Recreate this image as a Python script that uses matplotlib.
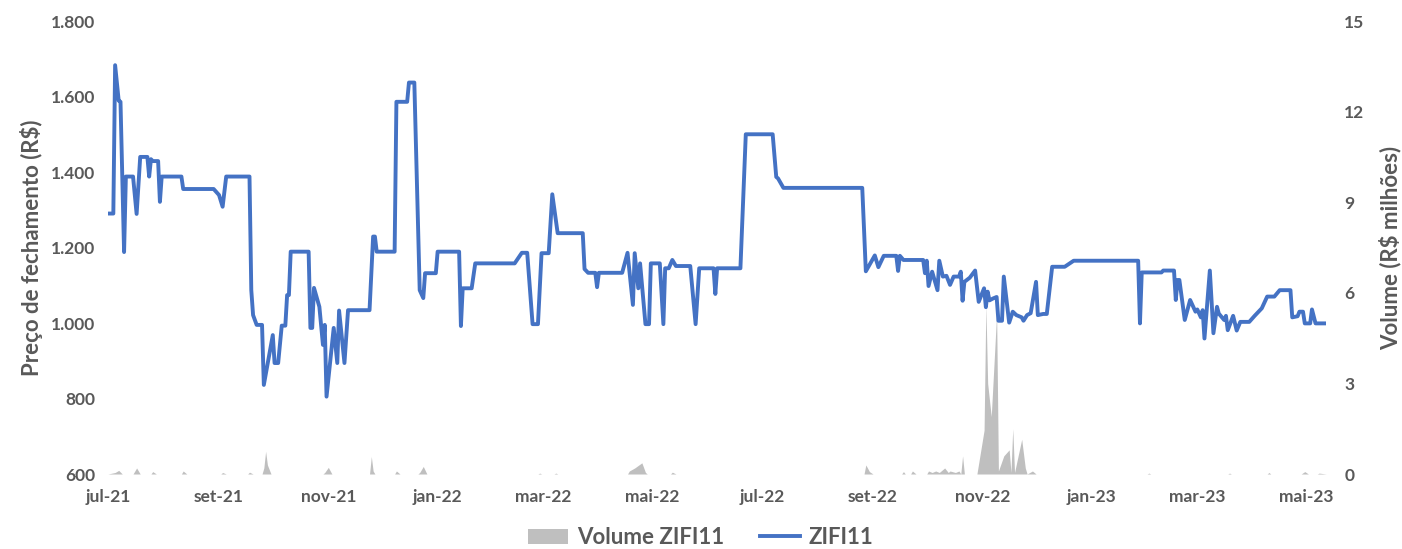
import numpy as np
import pandas as pd
import matplotlib
matplotlib.use("Agg")
import matplotlib.pyplot as plt
import matplotlib.dates as mdates
from matplotlib.ticker import FuncFormatter, FixedLocator
from matplotlib.patches import Patch
from matplotlib.lines import Line2D

# preço de fechamento (R$)
precoDatas = [
    "2021-07-01", "2021-07-04", "2021-07-05", "2021-07-07", "2021-07-08", "2021-07-10", "2021-07-11",
    "2021-07-15", "2021-07-17", "2021-07-19", "2021-07-23", "2021-07-24", "2021-07-25", "2021-07-26",
    "2021-07-29", "2021-07-30", "2021-07-31", "2021-08-11", "2021-08-12", "2021-08-29", "2021-09-01",
    "2021-09-03", "2021-09-05", "2021-09-18", "2021-09-19", "2021-09-20", "2021-09-22", "2021-09-25",
    "2021-09-26", "2021-10-01", "2021-10-02", "2021-10-04", "2021-10-06", "2021-10-08", "2021-10-09",
    "2021-10-10", "2021-10-11", "2021-10-21", "2021-10-22", "2021-10-23", "2021-10-24", "2021-10-27",
    "2021-10-29", "2021-10-30", "2021-10-31", "2021-11-04", "2021-11-06", "2021-11-07", "2021-11-10",
    "2021-11-12", "2021-11-24", "2021-11-26", "2021-11-27", "2021-11-28", "2021-12-08", "2021-12-09",
    "2021-12-15", "2021-12-16", "2021-12-19", "2021-12-22", "2021-12-24", "2021-12-25", "2021-12-31",
    "2022-01-01", "2022-01-13", "2022-01-14", "2022-01-15", "2022-01-20", "2022-01-22", "2022-02-13",
    "2022-02-17", "2022-02-20", "2022-02-23", "2022-02-26", "2022-02-28", "2022-03-04", "2022-03-06",
    "2022-03-09", "2022-03-23", "2022-03-24", "2022-03-26", "2022-03-30", "2022-03-31", "2022-04-01",
    "2022-04-14", "2022-04-17", "2022-04-20", "2022-04-21", "2022-04-23", "2022-04-24", "2022-04-27",
    "2022-04-29", "2022-04-30", "2022-05-05", "2022-05-07", "2022-05-08", "2022-05-10", "2022-05-12",
    "2022-05-14", "2022-05-22", "2022-05-25", "2022-05-27", "2022-06-04", "2022-06-05", "2022-06-06",
    "2022-06-19", "2022-06-22", "2022-07-07", "2022-07-09", "2022-07-10", "2022-07-13", "2022-08-26",
    "2022-08-28", "2022-09-02", "2022-09-04", "2022-09-07", "2022-09-14", "2022-09-15", "2022-09-16",
    "2022-09-18", "2022-09-29", "2022-09-30", "2022-10-01", "2022-10-02", "2022-10-04", "2022-10-07",
    "2022-10-08", "2022-10-10", "2022-10-12", "2022-10-14", "2022-10-16", "2022-10-19", "2022-10-20",
    "2022-10-21", "2022-10-22", "2022-10-25", "2022-10-28", "2022-10-30", "2022-11-02", "2022-11-03",
    "2022-11-04", "2022-11-05", "2022-11-07", "2022-11-09", "2022-11-10", "2022-11-12", "2022-11-13",
    "2022-11-16", "2022-11-18", "2022-11-20", "2022-11-23", "2022-11-24", "2022-11-26", "2022-11-28",
    "2022-12-01", "2022-12-02", "2022-12-05", "2022-12-07", "2022-12-10", "2022-12-17", "2022-12-21",
    "2022-12-22", "2023-01-27", "2023-01-28", "2023-01-29", "2023-02-09", "2023-02-10", "2023-02-16",
    "2023-02-17", "2023-02-18", "2023-02-19", "2023-02-22", "2023-02-25", "2023-02-28", "2023-03-01",
    "2023-03-03", "2023-03-04", "2023-03-05", "2023-03-08", "2023-03-10", "2023-03-12", "2023-03-13",
    "2023-03-16", "2023-03-17", "2023-03-18", "2023-03-21", "2023-03-23", "2023-03-25", "2023-03-30",
    "2023-04-02", "2023-04-06", "2023-04-09", "2023-04-13", "2023-04-16", "2023-04-22", "2023-04-23",
    "2023-04-26", "2023-04-27", "2023-04-29", "2023-04-30", "2023-05-03", "2023-05-04", "2023-05-06",
    "2023-05-12",
]
precoValores = [
    1290, 1290, 1683, 1589, 1586, 1188, 1388,
    1388, 1289, 1440, 1440, 1388, 1434, 1429,
    1429, 1321, 1388, 1388, 1355, 1355, 1339,
    1308, 1388, 1388, 1087, 1021, 995, 995,
    836, 968, 894, 894, 993, 993, 1074,
    1074, 1189, 1189, 987, 987, 1093, 1043,
    942, 995, 805, 987, 894, 1033, 894,
    1034, 1034, 1229, 1229, 1189, 1189, 1586,
    1586, 1637, 1637, 1087, 1066, 1132, 1132,
    1189, 1189, 992, 1092, 1092, 1158, 1158,
    1186, 1186, 997, 997, 1185, 1185, 1341,
    1238, 1238, 1143, 1133, 1133, 1095, 1133,
    1133, 1186, 1048, 1185, 1092, 1158, 997,
    997, 1158, 1158, 997, 1145, 1145, 1167,
    1151, 1151, 997, 1145, 1145, 1077, 1145,
    1145, 1500, 1500, 1387, 1383, 1358, 1358,
    1137, 1179, 1148, 1178, 1178, 1138, 1178,
    1167, 1167, 1132, 1165, 1098, 1136, 1087,
    1165, 1123, 1125, 1101, 1123, 1123, 1136,
    1059, 1109, 1120, 1139, 1056, 1092, 1042,
    1083, 1060, 1065, 1069, 1006, 1006, 1123,
    1001, 1030, 1021, 1015, 1006, 1021, 1026,
    1109, 1021, 1024, 1024, 1149, 1149, 1162,
    1165, 1165, 999, 1134, 1134, 1139, 1139,
    1061, 1114, 1114, 1008, 1061, 1030, 1036,
    1015, 1034, 959, 1139, 973, 1043, 1025,
    1008, 1019, 981, 1019, 980, 1003, 1003,
    1019, 1039, 1070, 1070, 1087, 1087, 1015,
    1018, 1030, 1030, 999, 999, 1036, 999,
    999,
]

# volume negociado (R$ milhões)
volumeDatas = [
    "2021-07-01", "2021-07-05", "2021-07-07", "2021-07-09", "2021-07-15", "2021-07-17", "2021-07-19",
    "2021-07-25", "2021-07-26", "2021-07-28", "2021-08-11", "2021-08-12", "2021-08-14", "2021-09-02",
    "2021-09-03", "2021-09-05", "2021-09-17", "2021-09-18", "2021-09-20", "2021-09-25", "2021-09-26",
    "2021-09-27", "2021-09-28", "2021-09-30", "2021-10-29", "2021-10-30", "2021-11-01", "2021-11-03",
    "2021-11-24", "2021-11-25", "2021-11-26", "2021-11-27", "2021-12-08", "2021-12-09", "2021-12-11",
    "2021-12-21", "2021-12-22", "2021-12-24", "2021-12-26", "2022-02-26", "2022-02-27", "2022-02-28",
    "2022-03-07", "2022-03-08", "2022-03-09", "2022-04-17", "2022-04-18", "2022-04-21", "2022-04-25",
    "2022-04-27", "2022-04-28", "2022-05-11", "2022-05-12", "2022-05-14", "2022-08-27", "2022-08-28",
    "2022-08-30", "2022-09-01", "2022-09-17", "2022-09-18", "2022-09-19", "2022-09-22", "2022-09-23",
    "2022-09-25", "2022-10-01", "2022-10-02", "2022-10-04", "2022-10-06", "2022-10-08", "2022-10-11",
    "2022-10-13", "2022-10-14", "2022-10-17", "2022-10-19", "2022-10-20", "2022-10-21", "2022-10-22",
    "2022-10-29", "2022-11-02", "2022-11-03", "2022-11-04", "2022-11-06", "2022-11-09", "2022-11-10",
    "2022-11-13", "2022-11-16", "2022-11-17", "2022-11-18", "2022-11-19", "2022-11-23", "2022-11-25",
    "2022-11-26", "2022-11-29", "2022-12-01", "2023-02-01", "2023-02-02", "2023-02-03", "2023-03-18",
    "2023-03-19", "2023-03-20", "2023-04-09", "2023-04-10", "2023-04-11", "2023-04-28", "2023-04-30",
    "2023-05-02", "2023-05-07", "2023-05-08", "2023-05-12",
]
volumeValores = [
    0, 0.05, 0.12, 0, 0, 0.2, 0,
    0, 0.08, 0, 0, 0.1, 0, 0,
    0.05, 0, 0, 0.06, 0, 0, 0.2,
    0.75, 0.3, 0, 0, 0.05, 0.22, 0,
    0, 0.58, 0.1, 0, 0, 0.1, 0,
    0, 0.05, 0.25, 0, 0, 0.03, 0,
    0, 0.03, 0, 0, 0.1, 0.2, 0.37,
    0.05, 0, 0, 0.06, 0, 0, 0.3,
    0.08, 0, 0, 0.08, 0, 0, 0.1,
    0, 0, 0.1, 0.05, 0.1, 0.05, 0.2,
    0.05, 0.1, 0.05, 0.1, 0, 0.6, 0,
    0, 1.45, 5.6, 3.0, 1.9, 5.3, 0.1,
    0.6, 0.8, 0.05, 1.5, 0.05, 1.15, 0.2,
    0, 0.1, 0, 0, 0.03, 0, 0,
    0.03, 0, 0, 0.05, 0, 0, 0.08,
    0, 0, 0.03, 0,
]

mesesPt = ["jan", "fev", "mar", "abr", "mai", "jun", "jul", "ago", "set", "out", "nov", "dez"]
ticksX = pd.date_range("2021-07-01", "2023-05-01", freq="2MS")

cinza = "#595959"
azul = "#4472C4"
cinzaArea = "#BFBFBF"
plt.rcParams['font.family'] = ['Lato', 'DejaVu Sans']
plt.rcParams['font.weight'] = 'bold'

precoX = pd.to_datetime(precoDatas)
volumeX = pd.to_datetime(volumeDatas)

fig = plt.figure(figsize=(14.02, 5.49), dpi=100)
ax = fig.add_axes([0.077, 0.1366, 0.869, 0.8251])
ax2 = ax.twinx()

ax2.fill_between(volumeX, volumeValores, 0, color=cinzaArea, linewidth=0)
ax.plot(precoX, precoValores, color=azul, linewidth=2.8, solid_joinstyle="round")

ax.set_zorder(ax2.get_zorder() + 1)
ax.patch.set_visible(False)

ax.set_xlim(pd.Timestamp("2021-07-01"), pd.Timestamp("2023-05-12"))
ax.set_ylim(600, 1800)
ax.set_yticks(np.arange(600, 1801, 200))
ax.yaxis.set_major_formatter(FuncFormatter(lambda v, p: f"{int(v):,}".replace(",", ".")))
ax2.set_ylim(0, 15)
ax2.set_yticks(np.arange(0, 16, 3))

ax.xaxis.set_major_locator(FixedLocator(mdates.date2num(ticksX)))
ax.xaxis.set_major_formatter(FuncFormatter(
    lambda v, p: f"{mesesPt[mdates.num2date(v).month - 1]}-{mdates.num2date(v).strftime('%y')}"))

for a in (ax, ax2):
    for s in a.spines.values():
        s.set_visible(False)
    a.tick_params(length=0, labelsize=12.5, labelcolor=cinza)
ax.tick_params(axis="x", pad=11)
ax.tick_params(axis="y", pad=9)
ax2.tick_params(axis="y", pad=13)

ax.set_ylabel("Preço de fechamento (R$)", fontsize=16, color=cinza, fontweight="bold", labelpad=6)
ax2.set_ylabel("Volume (R$ milhões)", fontsize=16, color=cinza, fontweight="bold", labelpad=10)

handles = [Patch(facecolor=cinzaArea, edgecolor="none"), Line2D([0], [0], color=azul, linewidth=2.8)]
fig.legend(handles, ["Volume ZIFI11", "ZIFI11"], loc="lower center", bbox_to_anchor=(0.5, -0.035),
           ncol=2, frameon=False, fontsize=16, labelcolor=cinza, handlelength=1.8,
           handletextpad=0.4, columnspacing=1.6)

fig.savefig("out.png", dpi=100)
